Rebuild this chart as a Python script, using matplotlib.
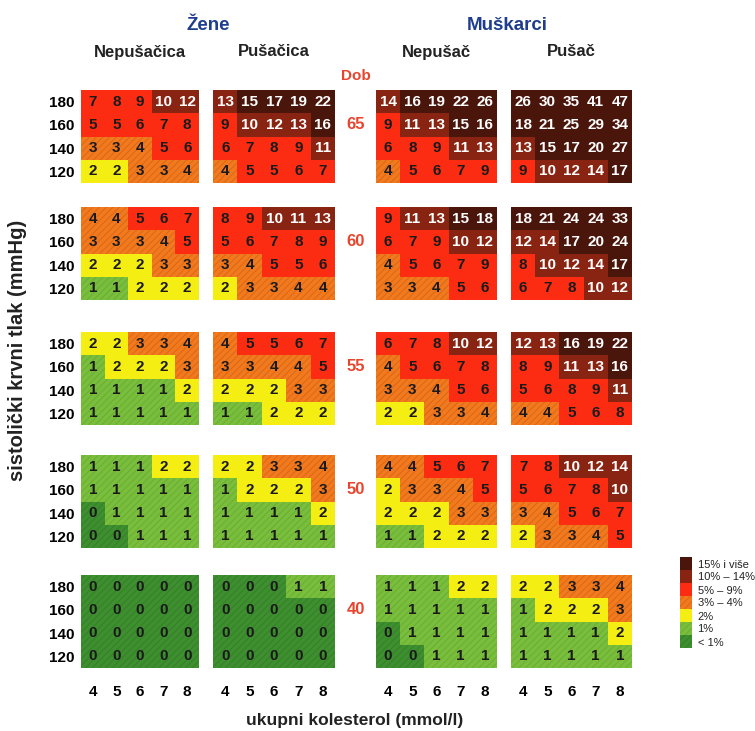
import matplotlib
matplotlib.use('Agg')
from matplotlib import pyplot as plt
from matplotlib import transforms

plt.rcParams['font.family'] = ['Liberation Sans', 'DejaVu Sans']
plt.rcParams['hatch.linewidth'] = 0.7

# SCORE chart values, rows = systolic BP 180..120, cols = cholesterol 4..8
ages = [65, 60, 55, 50, 40]
bp_levels = [180, 160, 140, 120]
cholesterol = [4, 5, 6, 7, 8]
group_titles = ['Nepušačica', 'Pušačica', 'Nepušač', 'Pušač']

women_nonsmoker = [
    [[7, 8, 9, 10, 12], [5, 5, 6, 7, 8], [3, 3, 4, 5, 6], [2, 2, 3, 3, 4]],
    [[4, 4, 5, 6, 7], [3, 3, 3, 4, 5], [2, 2, 2, 3, 3], [1, 1, 2, 2, 2]],
    [[2, 2, 3, 3, 4], [1, 2, 2, 2, 3], [1, 1, 1, 1, 2], [1, 1, 1, 1, 1]],
    [[1, 1, 1, 2, 2], [1, 1, 1, 1, 1], [0, 1, 1, 1, 1], [0, 0, 1, 1, 1]],
    [[0, 0, 0, 0, 0], [0, 0, 0, 0, 0], [0, 0, 0, 0, 0], [0, 0, 0, 0, 0]],
]
women_smoker = [
    [[13, 15, 17, 19, 22], [9, 10, 12, 13, 16], [6, 7, 8, 9, 11], [4, 5, 5, 6, 7]],
    [[8, 9, 10, 11, 13], [5, 6, 7, 8, 9], [3, 4, 5, 5, 6], [2, 3, 3, 4, 4]],
    [[4, 5, 5, 6, 7], [3, 3, 4, 4, 5], [2, 2, 2, 3, 3], [1, 1, 2, 2, 2]],
    [[2, 2, 3, 3, 4], [1, 2, 2, 2, 3], [1, 1, 1, 1, 2], [1, 1, 1, 1, 1]],
    [[0, 0, 0, 1, 1], [0, 0, 0, 0, 0], [0, 0, 0, 0, 0], [0, 0, 0, 0, 0]],
]
men_nonsmoker = [
    [[14, 16, 19, 22, 26], [9, 11, 13, 15, 16], [6, 8, 9, 11, 13], [4, 5, 6, 7, 9]],
    [[9, 11, 13, 15, 18], [6, 7, 9, 10, 12], [4, 5, 6, 7, 9], [3, 3, 4, 5, 6]],
    [[6, 7, 8, 10, 12], [4, 5, 6, 7, 8], [3, 3, 4, 5, 6], [2, 2, 3, 3, 4]],
    [[4, 4, 5, 6, 7], [2, 3, 3, 4, 5], [2, 2, 2, 3, 3], [1, 1, 2, 2, 2]],
    [[1, 1, 1, 2, 2], [1, 1, 1, 1, 1], [0, 1, 1, 1, 1], [0, 0, 1, 1, 1]],
]
men_smoker = [
    [[26, 30, 35, 41, 47], [18, 21, 25, 29, 34], [13, 15, 17, 20, 27], [9, 10, 12, 14, 17]],
    [[18, 21, 24, 24, 33], [12, 14, 17, 20, 24], [8, 10, 12, 14, 17], [6, 7, 8, 10, 12]],
    [[12, 13, 16, 19, 22], [8, 9, 11, 13, 16], [5, 6, 8, 9, 11], [4, 4, 5, 6, 8]],
    [[7, 8, 10, 12, 14], [5, 6, 7, 8, 10], [3, 4, 5, 6, 7], [2, 3, 3, 4, 5]],
    [[2, 2, 3, 3, 4], [1, 2, 2, 2, 3], [1, 1, 1, 1, 2], [1, 1, 1, 1, 1]],
]
groups = [women_nonsmoker, women_smoker, men_nonsmoker, men_smoker]

legend_labels = ['15% i više', '10% – 14%', '5% – 9%', '3% – 4%', '2%', '1%', '< 1%']

# colours per risk class: <1, 1, 2, 3-4, 5-9, 10-14, 15+
face = ['#3e8f2f', '#79be3c', '#f4ee12', '#f27a1e', '#fb2c12', '#8a2412', '#4a150a']
hatch_col = ['#357f28', '#6aad33', '#f4ee12', '#dc6616', '#fb2c12', '#8a2412', '#4a150a']
hatches = ['/////', '/////', None, '/////', None, None, None]


def risk_class(v):
    if v < 1:
        return 0
    if v < 2:
        return 1
    if v < 3:
        return 2
    if v < 5:
        return 3
    if v < 10:
        return 4
    if v < 15:
        return 5
    return 6


W, H = 755, 731
fig = plt.figure(figsize=(W / 100, H / 100), dpi=100)

panel_left = [81, 213, 376, 511]
panel_width = [118, 122, 121, 121]
panel_top = [90, 207, 332, 455, 575]
panel_height = 93

for a, age in enumerate(ages):
    for g, grp in enumerate(groups):
        ax = fig.add_axes([panel_left[g] / W, 1 - (panel_top[a] + panel_height) / H,
                           panel_width[g] / W, panel_height / H])
        vals = grp[a]
        for i in range(len(bp_levels)):
            for j in range(len(cholesterol)):
                v = vals[i][j]
                k = risk_class(v)
                ax.bar(j, 1, bottom=3 - i, width=1.0, color=face[k],
                       edgecolor=hatch_col[k], linewidth=0, hatch=hatches[k])
                ax.text(j, 3 - i + 0.5, str(v), ha='center', va='center',
                        fontsize=11, fontweight='bold',
                        color='white' if v >= 10 else '#1a1a1a')
        ax.set_xlim(-0.5, 4.5)
        ax.set_ylim(0, 4)
        for s in ax.spines.values():
            s.set_visible(False)
        ax.tick_params(length=0)
        if g == 0:
            ax.set_yticks([3.5 - i for i in range(len(bp_levels))])
            ax.set_yticklabels([str(b) for b in bp_levels], fontsize=11, fontweight='bold')
            ax.tick_params(axis='y', pad=5)
        else:
            ax.set_yticks([])
        if a == len(ages) - 1:
            ax.set_xticks(range(len(cholesterol)))
            ax.set_xticklabels([str(c) for c in cholesterol], fontsize=11, fontweight='bold')
            ax.tick_params(axis='x', pad=12)
        else:
            ax.set_xticks([])
        if g == 1:
            tr = transforms.blended_transform_factory(fig.transFigure, ax.transData)
            ax.text(356 / W, 2.5, str(age), transform=tr, ha='center', va='center',
                    fontsize=12, fontweight='bold', color='#e8452c')

# headers
fig.text(208 / W, 1 - 26 / H, 'Žene', ha='center', va='center', fontsize=13.5,
         fontweight='bold', color='#1e3d8f')
fig.text(507 / W, 1 - 26 / H, 'Muškarci', ha='center', va='center', fontsize=13.5,
         fontweight='bold', color='#1e3d8f')
for g, t in enumerate(group_titles):
    cx = (panel_left[g] + panel_width[g] / 2) / W
    fig.text(cx, 1 - 52 / H, t, ha='center', va='center', fontsize=12,
             fontweight='bold', color='#222222')
fig.text(356 / W, 1 - 76 / H, 'Dob', ha='center', va='center', fontsize=11,
         fontweight='bold', color='#e8452c')

fig.text(18 / W, 1 - 350 / H, 'sistolički krvni tlak (mmHg)', rotation=90,
         ha='center', va='center', fontsize=14.5, fontweight='bold', color='#222222')
fig.text(355 / W, 1 - 720 / H, 'ukupni kolesterol (mmol/l)', ha='center', va='center',
         fontsize=12.5, fontweight='bold', color='#222222')

# legend column
lax = fig.add_axes([680 / W, 1 - 648 / H, 12 / W, 91 / H])
for n, lab in enumerate(legend_labels):
    k = 6 - n
    lax.barh(6 - n, 1, height=1.0, color=face[k], edgecolor=hatch_col[k],
             linewidth=0, hatch=hatches[k])
lax.set_xlim(0, 1)
lax.set_ylim(-0.5, 6.5)
for s in lax.spines.values():
    s.set_visible(False)
lax.set_xticks([])
lax.yaxis.tick_right()
lax.set_yticks([6 - n for n in range(len(legend_labels))])
lax.set_yticklabels(legend_labels, fontsize=8, color='#222222')
lax.tick_params(length=0, pad=4)

fig.savefig('out.png', dpi=100)
